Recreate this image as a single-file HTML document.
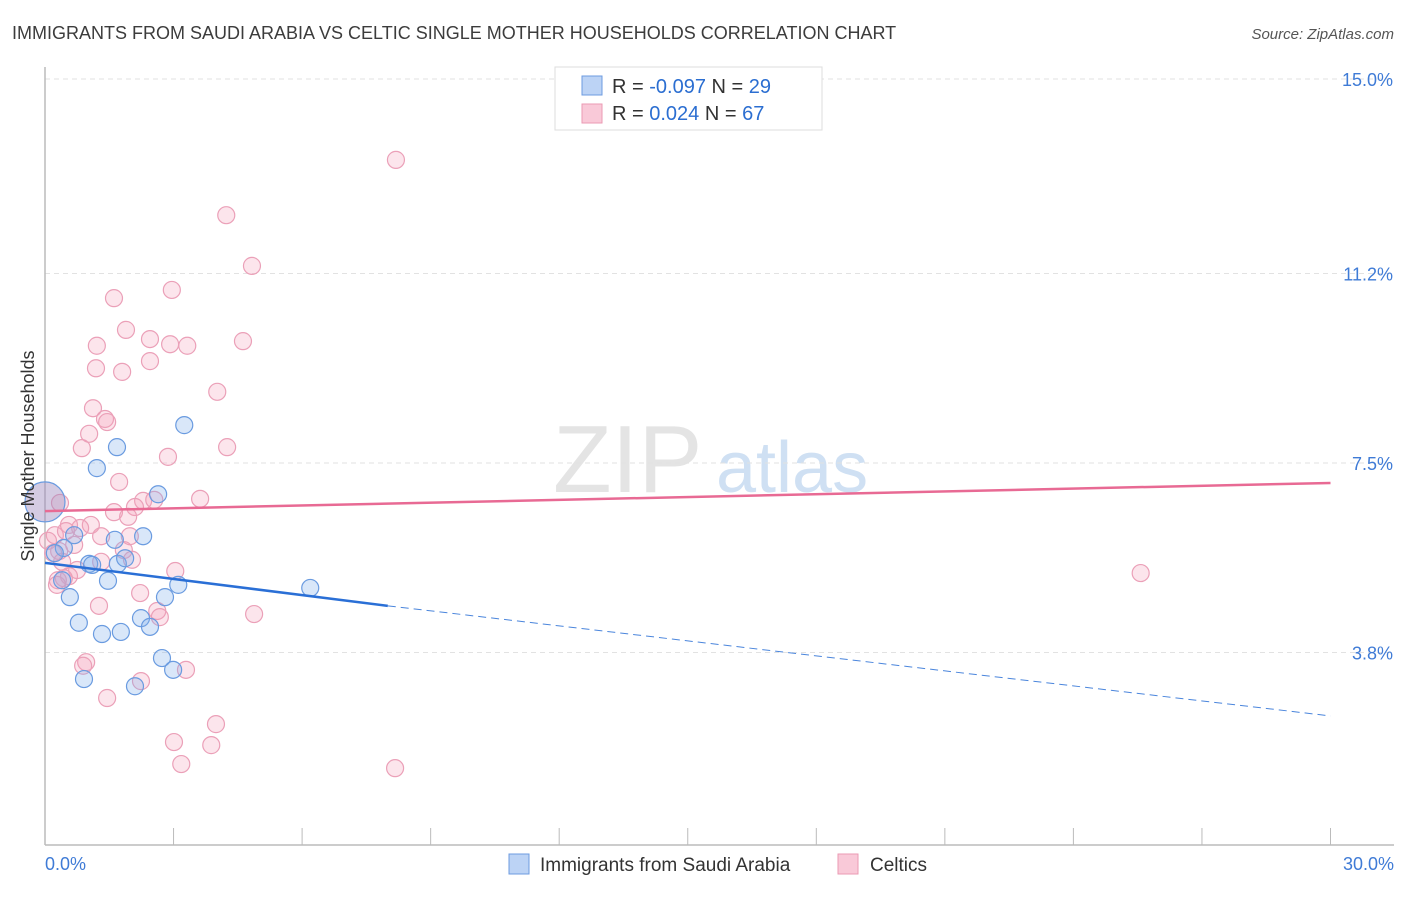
<!DOCTYPE html>
<html><head><meta charset="utf-8"><style>
body{margin:0;background:#fff;font-family:"Liberation Sans",sans-serif;}
svg text{font-family:"Liberation Sans",sans-serif;}
</style></head><body>
<svg id="chart" width="1406" height="892" xmlns="http://www.w3.org/2000/svg">
<text x="12" y="39" font-size="18" fill="#3c3c3c">IMMIGRANTS FROM SAUDI ARABIA VS CELTIC SINGLE MOTHER HOUSEHOLDS CORRELATION CHART</text>
<text x="1394" y="39" font-size="15" fill="#555" font-style="italic" text-anchor="end">Source: ZipAtlas.com</text>
<text x="553" y="492" font-size="96" fill="#e4e4e4" font-family="Liberation Serif">ZIP</text>
<text x="716" y="492" font-size="72" fill="#cfe0f3">atlas</text>
<g id="grid"></g>
<g id="axes"></g>
<g id="marks"></g>
<text transform="translate(34,456) rotate(-90)" font-size="18" fill="#333" text-anchor="middle">Single Mother Households</text>
<g>
<rect x="555" y="67" width="267" height="63" fill="#fff" stroke="#ddd"/>
<rect x="582" y="76" width="20" height="19" fill="#bcd3f5" stroke="#6d9be0"/>
<rect x="582" y="104" width="20" height="19" fill="#f9c9d8" stroke="#eb9ab3"/>
<text x="612" y="93" font-size="20" fill="#333">R = <tspan fill="#2b6ed1">-0.097</tspan>   N = <tspan fill="#2b6ed1">29</tspan></text>
<text x="612" y="120" font-size="20" fill="#333">R =   <tspan fill="#2b6ed1">0.024</tspan>   N = <tspan fill="#2b6ed1">67</tspan></text>
</g>
<g>
<rect x="509" y="854" width="20" height="20" fill="#bcd3f5" stroke="#6d9be0"/>
<text x="540" y="871" font-size="19" fill="#333">Immigrants from Saudi Arabia</text>
<rect x="838" y="854" width="20" height="20" fill="#f9c9d8" stroke="#eb9ab3"/>
<text x="870" y="871" font-size="19" fill="#333">Celtics</text>
</g>
</svg>
<script>
const yTicks=[15.0,11.2,7.5,3.8];
const yTickLabels=["15.0%","11.2%","7.5%","3.8%"];
const xTickLabels=["0.0%","30.0%"];
const blueX=[3.25,1.68,1.21,2.64,2.29,1.63,0.44,0.68,0.23,1.03,1.70,1.87,1.47,0.40,0.58,2.80,3.11,6.19,2.24,2.45,0.79,1.33,1.77,2.73,2.99,0.91,2.10,0,1.10];
const blueY=[8.24,7.81,7.40,6.89,6.07,6.00,5.84,6.09,5.74,5.53,5.53,5.64,5.20,5.21,4.88,4.88,5.12,5.06,4.47,4.30,4.38,4.16,4.20,3.69,3.46,3.28,3.14,6.74,5.51];
const pinkPx=[[396,160],[226,215],[252,266],[172,290],[114,298],[126,330],[150,339],[170,344],[187,346],[243,341],[97,346],[150,361],[96,368],[122,372],[217,392],[93,408],[105,419],[107,422],[89,434],[82,448],[227,447],[168,457],[119,482],[200,498],[60,502],[143,500],[154,499],[135,506],[114,511],[128,516],[91,524],[69,524],[80,527],[55,534],[101,535],[130,535],[74,544],[124,549],[59,550],[53,552],[132,559],[101,561],[77,569],[175,570],[69,576],[64,578],[58,580],[140,593],[99,606],[157,611],[160,617],[254,614],[86,662],[83,666],[186,670],[141,681],[107,698],[216,724],[174,742],[211,745],[181,764],[395,768],[1140,573],[48,540],[57,585],[62,562],[66,530]];
const pinkX=[8.19,4.23,4.83,2.96,1.61,1.89,2.45,2.92,3.32,4.62,1.21,2.45,1.19,1.80,4.02,1.12,1.40,1.45,1.03,0.86,4.25,2.87,1.73,3.62,0.35,2.29,2.55,2.10,1.61,1.94,1.07,0.56,0.82,0.23,1.31,1.98,0.68,1.84,0.33,0.19,2.03,1.31,0.75,3.04,0.56,0.44,0.30,2.22,1.26,2.62,2.68,4.88,0.96,0.89,3.29,2.24,1.45,3.99,3.01,3.88,3.18,8.17,25.57,0.07,0.28,0.40,0.49];
const pinkY=[13.42,12.34,11.35,10.88,10.72,10.10,9.92,9.82,9.79,9.88,9.79,9.49,9.35,9.28,8.89,8.57,8.36,8.30,8.07,7.79,7.81,7.62,7.13,6.80,6.72,6.76,6.78,6.64,6.54,6.45,6.29,6.29,6.23,6.09,6.07,6.07,5.90,5.80,5.78,5.74,5.61,5.57,5.41,5.39,5.29,5.25,5.21,4.96,4.71,4.61,4.49,4.55,3.61,3.54,3.46,3.24,2.91,2.40,2.05,1.99,1.62,1.54,5.35,5.98,5.12,5.57,6.17];
const pinkTrend=[[0,6.56],[30,7.11]];
const blueTrendSolid=[[0,5.55],[8,4.71]];
const blueTrendDash=[[8,4.71],[30,2.56]];
const NS="http://www.w3.org/2000/svg";
const sx=v=>45+v*42.85, sy=v=>847-v*51.2;
function mk(tag,attrs,parent){const e=document.createElementNS(NS,tag);for(const k in attrs)e.setAttribute(k,attrs[k]);document.getElementById(parent).appendChild(e);return e;}
yTicks.forEach((t,i)=>{
 const g=mk('line',{x1:45,x2:1394,y1:sy(t),y2:sy(t),stroke:'#e2e2e2','stroke-dasharray':'5,4'},'grid');
 
 
 const tx=mk('text',{x:1393,y:sy(t)+7,'font-size':18,fill:'#3f7bd6','text-anchor':'end'},'grid');
 tx.textContent=yTickLabels[i];
 
 
});
const ax=mk('line',{x1:45,x2:45,y1:67,y2:845,stroke:'#bbb','stroke-width':1.5},'axes');


const bx=mk('line',{x1:45,x2:1394,y1:845,y2:845,stroke:'#bbb','stroke-width':1.5},'axes');


for(let i=0;i<=10;i++){const t=mk('line',{x1:sx(i*3),x2:sx(i*3),y1:828,y2:845,stroke:'#bbb'},'axes');
 
 }
[[0,'start',45],[1,'end',1394]].forEach(([i,a,x])=>{const t=mk('text',{x:x,y:870,'font-size':18,fill:'#3f7bd6','text-anchor':a},'axes');t.textContent=xTickLabels[i];
 
 });
pinkX.forEach((x,i)=>{const c=mk('circle',{cx:sx(x),cy:sy(pinkY[i]),r:8.5,fill:'rgba(244,160,188,0.28)',stroke:'#eba0b8','stroke-width':1.2},'marks');
 
 });
blueX.forEach((x,i)=>{const big=x===0;const c=mk('circle',{cx:sx(x),cy:sy(blueY[i]),r:big?20:8.5,fill:big?'rgba(160,140,190,0.45)':'rgba(130,175,235,0.3)',stroke:'#6a9be0','stroke-width':1.2},'marks');
 
 });
const pt=mk('line',{x1:sx(pinkTrend[0][0]),y1:sy(pinkTrend[0][1]),x2:sx(pinkTrend[1][0]),y2:sy(pinkTrend[1][1]),stroke:'#e86a94','stroke-width':2.5},'marks');


const bt=mk('line',{x1:sx(blueTrendSolid[0][0]),y1:sy(blueTrendSolid[0][1]),x2:sx(blueTrendSolid[1][0]),y2:sy(blueTrendSolid[1][1]),stroke:'#2a6fd6','stroke-width':2.5},'marks');


const bd=mk('line',{x1:sx(blueTrendDash[0][0]),y1:sy(blueTrendDash[0][1]),x2:sx(blueTrendDash[1][0]),y2:sy(blueTrendDash[1][1]),stroke:'#4a85dc','stroke-width':1,'stroke-dasharray':'8,5'},'marks');


</script>
</body></html>
